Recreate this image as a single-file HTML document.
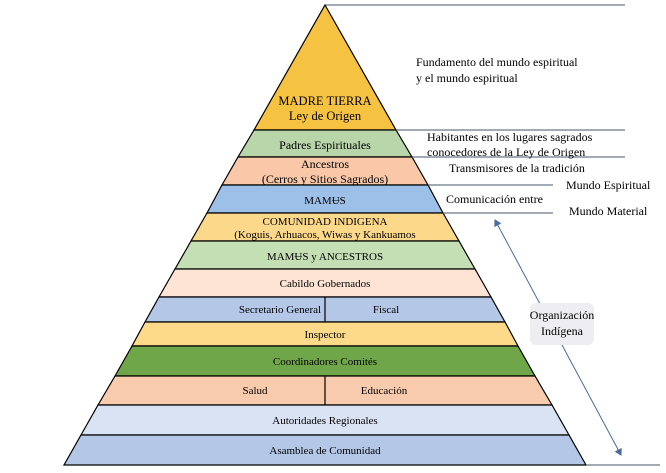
<!DOCTYPE html>
<html><head><meta charset="utf-8"><style>html,body{margin:0;padding:0;background:#fff}svg text{font-family:"Liberation Serif","DejaVu Serif",serif}</style></head>
<body>
<svg width="666" height="468" viewBox="0 0 666 468" xmlns="http://www.w3.org/2000/svg" fill="#000">
<defs><marker id="ah" markerWidth="8" markerHeight="8" refX="6" refY="4" orient="auto-start-reverse"><path d="M0,0 L7,4 L0,8 z" fill="#4a6aa0"/></marker></defs>
<g stroke="#000" stroke-width="1.2">
<polygon points="325,5 396,130 254,130" fill="#f5c242"/>
<polygon points="254,130 396,130 412,157 238,157" fill="#b8d6a9"/>
<polygon points="238,157 412,157 428,185 222,185" fill="#f8c8a8"/>
<polygon points="222,185 428,185 443,213 207,213" fill="#9dc0e8"/>
<polygon points="207,213 443,213 459,241 191,241" fill="#fcd98a"/>
<polygon points="191,241 459,241 475,269 175,269" fill="#c5dfb5"/>
<polygon points="175,269 475,269 491,297 159,297" fill="#fde4d5"/>
<polygon points="159,297 491,297 505,322 145,322" fill="#b4c7e7"/>
<polygon points="145,322 505,322 518,346 132,346" fill="#fdd98a"/>
<polygon points="132,346 518,346 535,376 115,376" fill="#70a64a"/>
<polygon points="115,376 535,376 552,405 98,405" fill="#f8cbad"/>
<polygon points="98,405 552,405 569,435 81,435" fill="#dae3f3"/>
<polygon points="81,435 569,435 586,465 64,465" fill="#b4c7e7"/>
<line x1="325" y1="297" x2="325" y2="322"/>
<line x1="325" y1="376" x2="325" y2="405"/>
</g>
<g stroke="#44546a" stroke-width="1">
<line x1="325" y1="5" x2="625" y2="5"/>
<line x1="396" y1="130" x2="625" y2="130"/>
<line x1="412" y1="157" x2="625" y2="157"/>
<line x1="428" y1="185" x2="553" y2="185"/>
<line x1="443" y1="213" x2="553" y2="213"/>
<line x1="586" y1="465" x2="660" y2="465"/>
</g>
<line x1="495" y1="220" x2="621" y2="455" stroke="#4a6aa0" stroke-width="1" marker-start="url(#ah)" marker-end="url(#ah)"/>
<rect x="530" y="303" width="64" height="42" rx="6" fill="#eeeef2"/>
<g font-size="11" text-anchor="middle">
<text x="325" y="105" font-size="12.5">MADRE TIERRA</text>
<text x="325" y="120" font-size="12.5">Ley de Origen</text>
<text x="325" y="149" font-size="12">Padres Espirituales</text>
<text x="325" y="168" font-size="12">Ancestros</text>
<text x="325" y="183" font-size="12">(Cerros y Sitios Sagrados)</text>
<text x="325" y="204">MAMɄS</text>
<text x="325" y="225">COMUNIDAD INDIGENA</text>
<text x="325" y="238">(Koguis, Arhuacos, Wiwas y Kankuamos</text>
<text x="325" y="260">MAMɄS y ANCESTROS</text>
<text x="325" y="287">Cabildo Gobernados</text>
<text x="280" y="313">Secretario General</text>
<text x="386" y="313">Fiscal</text>
<text x="325" y="338">Inspector</text>
<text x="325" y="365">Coordinadores Comités</text>
<text x="255" y="394">Salud</text>
<text x="384" y="394">Educación</text>
<text x="325" y="424">Autoridades Regionales</text>
<text x="325" y="454">Asamblea de Comunidad</text>
<text x="562" y="319" font-size="12">Organización</text>
<text x="562" y="335" font-size="12">Indígena</text>
</g>
<g font-size="12">
<text x="416" y="66">Fundamento del mundo espiritual</text>
<text x="416" y="82">y el mundo espiritual</text>
<text x="427" y="141">Habitantes en los lugares sagrados</text>
<text x="427" y="156">conocedores de la Ley de Origen</text>
<text x="449" y="172">Transmisores de la tradición</text>
<text x="566" y="189">Mundo Espiritual</text>
<text x="446" y="203">Comunicación entre</text>
<text x="569" y="215">Mundo Material</text>
</g>
</svg>
</body></html>
